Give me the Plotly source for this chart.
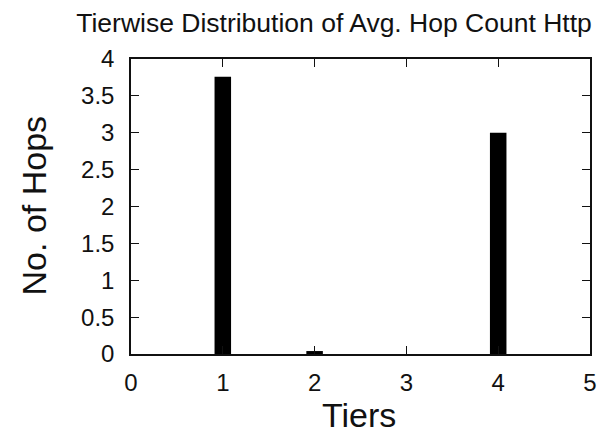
import plotly.graph_objects as go

# Average hop count per tier (HTTP traffic)
tiers = [1, 2, 3, 4]
avg_hops = [3.76, 0.04, 0.0, 3.0]

x_ticks = [0, 1, 2, 3, 4, 5]
y_ticks = [0, 0.5, 1, 1.5, 2, 2.5, 3, 3.5, 4]
y_tick_text = ["0", "0.5", "1", "1.5", "2", "2.5", "3", "3.5", "4"]

W, H = 608, 436
L, R, T, B = 131, 11, 59, 82
FONT = "Liberation Sans, Arial, Helvetica, sans-serif"

fig = go.Figure(
    go.Bar(
        x=tiers,
        y=avg_hops,
        width=0.18,
        marker=dict(color="black", line=dict(width=0)),
    )
)

axis_common = dict(
    showline=True,
    linecolor="#111",
    linewidth=1.5,
    mirror="ticks",
    ticks="inside",
    ticklen=8,
    tickwidth=1,
    tickcolor="#111",
    showgrid=False,
    zeroline=False,
    tickfont=dict(family=FONT, size=24, color="#111"),
)

fig.update_xaxes(
    range=[0, 5],
    tickvals=x_ticks,
    ticklabelstandoff=6,
    **axis_common,
)
fig.update_yaxes(
    range=[0, 4],
    tickvals=y_ticks,
    ticktext=y_tick_text,
    ticklabelstandoff=10,
    **axis_common,
)

pw = W - L - R
ph = H - T - B


def px_x(x):
    return (x - L) / pw


def px_y(y):
    return (H - B - y) / ph


fig.update_layout(
    width=W,
    height=H,
    margin=dict(l=L, r=R, t=T, b=B),
    paper_bgcolor="white",
    plot_bgcolor="white",
    showlegend=False,
    title=dict(
        text="Tierwise Distribution of Avg. Hop Count Http",
        font=dict(family=FONT, size=26.5, color="#111"),
        x=334 / W,
        xanchor="center",
        xref="container",
        y=1 - 23 / H,
        yanchor="middle",
    ),
    annotations=[
        dict(
            text="Tiers",
            x=px_x(362),
            y=px_y(415),
            xref="paper",
            yref="paper",
            xanchor="center",
            yanchor="middle",
            showarrow=False,
            font=dict(family=FONT, size=34, color="#111"),
        ),
        dict(
            text="No. of Hops",
            x=px_x(33),
            y=px_y(205),
            xref="paper",
            yref="paper",
            xanchor="center",
            yanchor="middle",
            textangle=-90,
            showarrow=False,
            font=dict(family=FONT, size=34, color="#111"),
        ),
    ],
)

fig.write_html("out.html")
